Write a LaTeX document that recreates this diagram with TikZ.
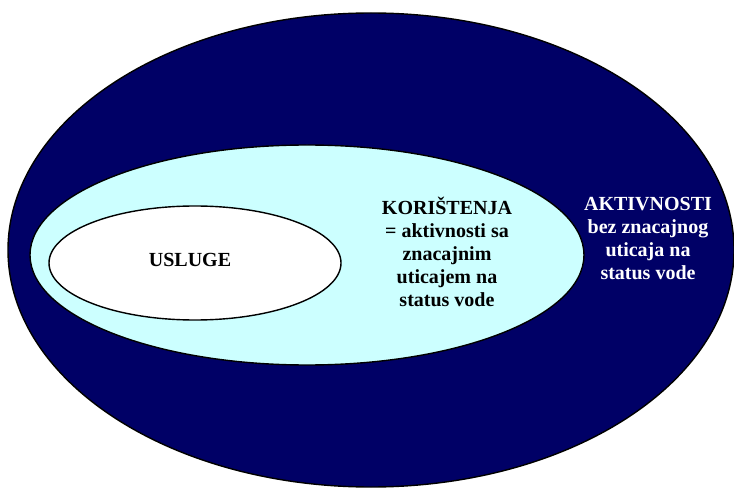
\documentclass[tikz,border=0pt]{standalone}
\usepackage{fontspec}
\setmainfont{Liberation Serif}
\definecolor{navyfill}{RGB}{0,0,102}
\definecolor{cyanfill}{RGB}{204,255,255}
\begin{document}
\begin{tikzpicture}[x=1pt,y=-1pt,
  ring/.style={draw=black,line width=1.4pt},
  label/.style={font=\fontsize{20}{23}\selectfont\bfseries,align=center,inner sep=0pt}]
\useasboundingbox (0,0) rectangle (734,489);
% nested sets
\draw[ring,fill=navyfill] (371,250) ellipse [x radius=363,y radius=237];
\draw[ring,fill=cyanfill] (307,255) ellipse [x radius=277,y radius=110];
\draw[ring,fill=white] (195,263) ellipse [x radius=146,y radius=57];
% labels
\node[label] (usluge) at (190,260) {USLUGE};
\node[label,anchor=north] (koristenja) at (447,197) {KORIŠTENJA\\= aktivnosti sa\\znacajnim\\uticajem na\\status vode};
\node[label,anchor=north,text=white] (aktivnosti) at (648,197) {AKTIVNOSTI\\bez znacajnog\\uticaja na\\status vode};
\end{tikzpicture}
\end{document}
